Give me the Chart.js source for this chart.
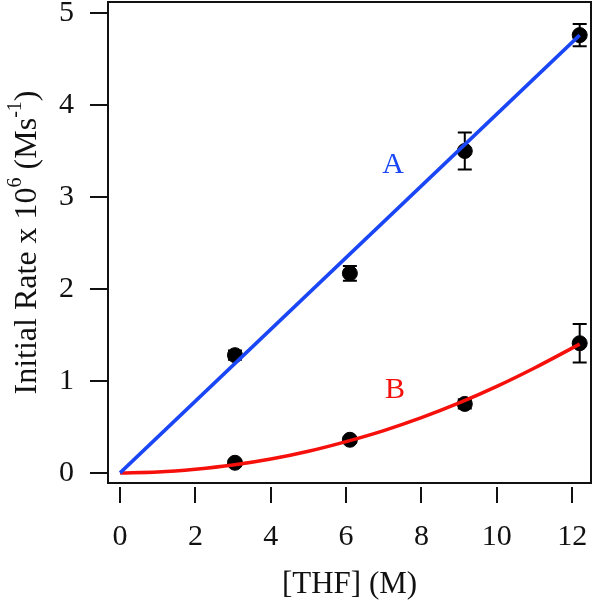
<!DOCTYPE html>
<html>
<head>
<meta charset="utf-8">
<script src="https://cdn.jsdelivr.net/npm/chart.js@4/dist/chart.umd.min.js"></script>
<style>
  html, body { margin: 0; padding: 0; background: #fff; }
  #wrap { width: 593px; height: 600px; }
</style>
</head>
<body>
<div id="wrap"><canvas id="rateChart"></canvas></div>
<script>
// measured points, [THF] in M
var thf = [3.05, 6.1, 9.15, 12.2];
var rateA = [1.28, 2.17, 3.50, 4.76];
var errA = [0.05, 0.08, 0.20, 0.12];
var rateB = [0.11, 0.36, 0.75, 1.41];
var errB = [0.03, 0.03, 0.05, 0.21];

// fit curves
var fitAx = [0, 12.2];
var fitAy = [0, 4.76];
var fitBx = [0, 1, 2, 3, 4, 5, 6, 7, 8, 9, 10, 11, 12.2];
var fitBy = [0, 0.01, 0.04, 0.085, 0.15, 0.235, 0.34, 0.46, 0.6, 0.76, 0.94, 1.14, 1.40];

var xTicks = [0, 2, 4, 6, 8, 10, 12];
var yTicks = [0, 1, 2, 3, 4, 5];

var serif = "'Liberation Serif', 'DejaVu Serif', serif";
var blue = '#1a46f5';
var red = '#f5100c';

function pts(xs, ys) {
	var out = [];
	for (var i = 0; i < xs.length; i++) out.push({x: xs[i], y: ys[i]});
	return out;
}

function noPad(scale) {
	scale.paddingTop = 0;
	scale.paddingBottom = 0;
	scale.paddingLeft = 0;
	scale.paddingRight = 0;
}

var framePlugin = {
	id: 'frame',
	// error bars go under everything else
	beforeDatasetsDraw: function(chart) {
		var ctx = chart.ctx;
		var xs = chart.scales.x, ys = chart.scales.y;
		ctx.save();
		ctx.lineWidth = 2;
		ctx.strokeStyle = '#000';
		function bars(vals, errs) {
			for (var i = 0; i < thf.length; i++) {
				var px = xs.getPixelForValue(thf[i]);
				var lo = ys.getPixelForValue(vals[i] - errs[i]);
				var hi = ys.getPixelForValue(vals[i] + errs[i]);
				ctx.beginPath();
				ctx.moveTo(px, lo); ctx.lineTo(px, hi);
				ctx.moveTo(px - 7, lo); ctx.lineTo(px + 7, lo);
				ctx.moveTo(px - 7, hi); ctx.lineTo(px + 7, hi);
				ctx.stroke();
			}
		}
		bars(rateA, errA);
		bars(rateB, errB);
		ctx.restore();
	},
	afterDatasetsDraw: function(chart) {
		var ctx = chart.ctx;
		var a = chart.chartArea;
		var xs = chart.scales.x, ys = chart.scales.y;
		ctx.save();
		ctx.strokeStyle = '#111';
		ctx.lineWidth = 2;
		ctx.strokeRect(a.left, a.top, a.right - a.left, a.bottom - a.top);

		// tick marks
		ctx.beginPath();
		yTicks.forEach(function(v) {
			var py = Math.round(ys.getPixelForValue(v));
			ctx.moveTo(a.left - 18, py);
			ctx.lineTo(a.left, py);
		});
		xTicks.forEach(function(v) {
			var px = Math.round(xs.getPixelForValue(v));
			ctx.moveTo(px, a.bottom + 4);
			ctx.lineTo(px, a.bottom + 20);
		});
		ctx.stroke();

		// curve labels
		ctx.font = '30px ' + serif;
		ctx.textAlign = 'center';
		ctx.textBaseline = 'middle';
		ctx.fillStyle = blue;
		ctx.fillText('A', xs.getPixelForValue(7.25), ys.getPixelForValue(3.35));
		ctx.fillStyle = red;
		ctx.fillText('B', xs.getPixelForValue(7.3), ys.getPixelForValue(0.9));

		// y axis title with superscripts
		ctx.translate(36, (a.top + a.bottom) / 2);
		ctx.rotate(-Math.PI / 2);
		ctx.fillStyle = '#111';
		ctx.textAlign = 'left';
		ctx.textBaseline = 'alphabetic';
		var parts = [['Initial Rate x 10', false], ['6', true], [' (Ms', false], ['-1', true], [')', false]];
		var total = 0;
		parts.forEach(function(p) {
			ctx.font = (p[1] ? '20px ' : '32px ') + serif;
			total += ctx.measureText(p[0]).width;
		});
		var cx = -total / 2;
		parts.forEach(function(p) {
			ctx.font = (p[1] ? '20px ' : '32px ') + serif;
			ctx.fillText(p[0], cx, p[1] ? -15 : 0);
			cx += ctx.measureText(p[0]).width;
		});
		ctx.restore();
	}
};

var ctx = document.getElementById('rateChart').getContext('2d');
var chart = new Chart(ctx, {
	type: 'scatter',
	data: {
		datasets: [
			{
				label: 'A fit',
				data: pts(fitAx, fitAy),
				showLine: true,
				borderColor: blue,
				borderWidth: 3.5,
				pointRadius: 0,
				order: 0
			},
			{
				label: 'B fit',
				data: pts(fitBx, fitBy),
				showLine: true,
				borderColor: red,
				borderWidth: 3.5,
				pointRadius: 0,
				cubicInterpolationMode: 'monotone',
				order: 1
			},
			{
				label: 'A data',
				data: pts(thf, rateA),
				backgroundColor: '#000',
				borderColor: '#000',
				pointRadius: 7.5,
				order: 2
			},
			{
				label: 'B data',
				data: pts(thf, rateB),
				backgroundColor: '#000',
				borderColor: '#000',
				pointRadius: 7.5,
				order: 3
			}
		]
	},
	options: {
		responsive: true,
		maintainAspectRatio: false,
		animation: false,
		layout: { autoPadding: false, padding: { top: 2, right: 2, left: 0, bottom: 0 } },
		plugins: {
			legend: { display: false },
			tooltip: { enabled: false }
		},
		scales: {
			x: {
				type: 'linear',
				min: -0.32,
				max: 12.5,
				afterBuildTicks: function(scale) {
					scale.ticks = xTicks.map(function(v) { return {value: v}; });
				},
				afterFit: function(scale) { scale.height = 117; noPad(scale); },
				grid: { display: false },
				border: { display: false },
				ticks: {
					color: '#111',
					font: { family: serif, size: 30 },
					padding: 28,
					maxRotation: 0
				},
				title: {
					display: true,
					text: '[THF] (M)',
					color: '#111',
					font: { family: serif, size: 31, lineHeight: 1 },
					padding: { top: 0, bottom: 0 }
				}
			},
			y: {
				type: 'linear',
				min: -0.11,
				max: 5.12,
				afterBuildTicks: function(scale) {
					scale.ticks = yTicks.map(function(v) { return {value: v}; });
				},
				afterFit: function(scale) { scale.width = 108; noPad(scale); },
				grid: { display: false },
				border: { display: false },
				ticks: {
					color: '#111',
					font: { family: serif, size: 30 },
					padding: 26
				},
				title: { display: false }
			}
		}
	},
	plugins: [framePlugin]
});
</script>
</body>
</html>
